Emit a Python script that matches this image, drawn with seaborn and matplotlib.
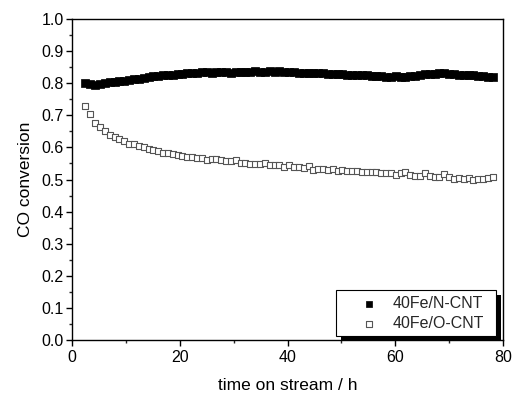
import matplotlib
matplotlib.use("Agg")
import matplotlib.pyplot as plt
import seaborn as sns
import pandas as pd
from matplotlib.ticker import MultipleLocator
from matplotlib.patches import Rectangle

sns.set_theme(style="ticks")
plt.rcParams['font.family'] = ['Liberation Sans', 'DejaVu Sans']

time_h = [2.5, 3.4, 4.3, 5.2, 6.1, 7.0, 7.9, 8.8, 9.7, 10.6, 11.5, 12.4, 13.3, 14.2, 15.1,
          16.0, 16.9, 17.8, 18.7, 19.6, 20.5, 21.4, 22.3, 23.2, 24.1, 25.0, 25.9, 26.8,
          27.7, 28.6, 29.5, 30.4, 31.3, 32.2, 33.1, 34.0, 34.9, 35.8, 36.7, 37.6, 38.5,
          39.4, 40.3, 41.2, 42.1, 43.0, 43.9, 44.8, 45.7, 46.6, 47.5, 48.4, 49.3, 50.2,
          51.1, 52.0, 52.9, 53.8, 54.7, 55.6, 56.5, 57.4, 58.3, 59.2, 60.1, 61.0, 61.9,
          62.8, 63.7, 64.6, 65.5, 66.4, 67.3, 68.2, 69.1, 70.0, 70.9, 71.8, 72.7, 73.6,
          74.5, 75.4, 76.3, 77.2, 78.1]

conv_n_cnt = [0.802, 0.797, 0.796, 0.798, 0.800, 0.803, 0.805, 0.807, 0.808, 0.810, 0.812,
              0.813, 0.816, 0.818, 0.822, 0.824, 0.825, 0.826, 0.827, 0.829, 0.830, 0.831,
              0.833, 0.832, 0.834, 0.834, 0.833, 0.835, 0.835, 0.834, 0.833, 0.835, 0.836,
              0.834, 0.835, 0.837, 0.836, 0.836, 0.837, 0.836, 0.837, 0.836, 0.834, 0.835,
              0.833, 0.832, 0.833, 0.831, 0.831, 0.832, 0.830, 0.829, 0.830, 0.828, 0.827,
              0.826, 0.826, 0.825, 0.825, 0.824, 0.823, 0.823, 0.821, 0.821, 0.822, 0.820,
              0.821, 0.822, 0.824, 0.826, 0.828, 0.829, 0.830, 0.832, 0.831, 0.829, 0.828,
              0.827, 0.826, 0.825, 0.826, 0.824, 0.822, 0.821, 0.820]

conv_o_cnt = [0.728, 0.705, 0.675, 0.663, 0.650, 0.638, 0.632, 0.626, 0.620, 0.611, 0.612,
              0.603, 0.600, 0.595, 0.592, 0.590, 0.583, 0.584, 0.580, 0.575, 0.572, 0.571,
              0.569, 0.568, 0.566, 0.561, 0.563, 0.565, 0.561, 0.558, 0.557, 0.560, 0.552,
              0.553, 0.548, 0.549, 0.548, 0.552, 0.545, 0.546, 0.544, 0.538, 0.546, 0.539,
              0.538, 0.535, 0.543, 0.530, 0.533, 0.532, 0.531, 0.532, 0.528, 0.529, 0.527,
              0.526, 0.528, 0.524, 0.523, 0.522, 0.523, 0.520, 0.521, 0.519, 0.514, 0.519,
              0.522, 0.513, 0.511, 0.512, 0.520, 0.510, 0.508, 0.509, 0.517, 0.509, 0.503,
              0.506, 0.502, 0.504, 0.500, 0.503, 0.501, 0.505, 0.509]

labels = ["40Fe/N-CNT", "40Fe/O-CNT"]

df_n = pd.DataFrame({"t": time_h, "conv": conv_n_cnt})
df_o = pd.DataFrame({"t": time_h, "conv": conv_o_cnt})

fig = plt.figure(figsize=(5.13, 3.97), dpi=100)
ax = fig.add_axes([0.1404, 0.1436, 0.9805 - 0.1404, 0.952 - 0.1436])

sns.scatterplot(data=df_n, x="t", y="conv", marker="s", s=26, color="black",
                edgecolor="black", linewidth=0.5, label=labels[0], ax=ax, zorder=3)
sns.scatterplot(data=df_o, x="t", y="conv", marker="s", s=17, facecolor="white",
                edgecolor="#555555", linewidth=0.8, label=labels[1], ax=ax, zorder=2)

ax.set_xlim(0, 80)
ax.set_ylim(0.0, 1.0)
ax.xaxis.set_major_locator(MultipleLocator(20))
ax.xaxis.set_minor_locator(MultipleLocator(10))
ax.yaxis.set_major_locator(MultipleLocator(0.1))
ax.yaxis.set_minor_locator(MultipleLocator(0.05))
ax.yaxis.set_major_formatter(matplotlib.ticker.FormatStrFormatter('%.1f'))
ax.tick_params(which="major", direction="out", length=4, width=1, labelsize=11.5,
               colors="black", top=False, right=False, pad=2)
ax.tick_params(axis="x", which="major", pad=3.5)
ax.tick_params(which="minor", direction="out", length=2.5, width=1, top=False, right=False)
for sp in ax.spines.values():
    sp.set_visible(True)
    sp.set_color("black")
    sp.set_linewidth(1.0)

ax.set_xlabel("time on stream / h", fontsize=12.5, color="black", labelpad=9)
ax.set_ylabel("CO conversion", fontsize=12.5, color="black", labelpad=6)

leg = ax.legend(loc="upper left", bbox_to_anchor=(0.661, 0.137), frameon=False,
                fontsize=11.5, handletextpad=0.75, borderpad=0.0,
                labelspacing=0.3, borderaxespad=0, handlelength=1.5,
                markerscale=0.9)
leg.set_zorder(11)

fig.canvas.draw()
bb = leg.get_window_extent()
pad_l, pad_r, pad_t, pad_b = 21, 12, 6, 5
fx0, fy0 = bb.x0 - pad_l, bb.y0 - pad_b
fw, fh = bb.width + pad_l + pad_r, bb.height + pad_t + pad_b
off = 5
shadow = Rectangle((fx0 + off, fy0 - off), fw, fh, transform=None,
                   facecolor="black", edgecolor="none", zorder=9, clip_on=False)
frame = Rectangle((fx0, fy0), fw, fh, transform=None, facecolor="white",
                  edgecolor="black", linewidth=0.8, zorder=10, clip_on=False)
ax.add_artist(shadow)
ax.add_artist(frame)

fig.savefig("out.png", dpi=100)
